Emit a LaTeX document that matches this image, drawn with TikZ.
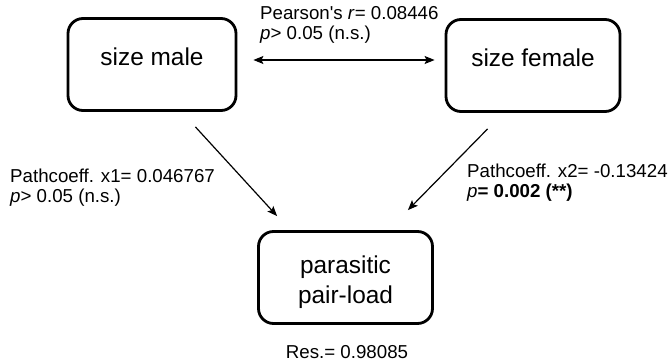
\documentclass[tikz,border=0pt]{standalone}
\usepackage{fontspec}
\setmainfont{Liberation Sans}
\usetikzlibrary{arrows.meta}

\begin{document}
\begin{tikzpicture}[x=1pt,y=-1pt]

\tikzset{box/.style={draw,rounded corners=15pt,line width=2.8pt,minimum height=92pt,
  align=center,font=\fontsize{24.4}{30}\selectfont},
  lbl/.style={inner sep=0pt,align=left,font=\fontsize{18.7}{20}\selectfont},
  arr/.style={line width=1.2pt,>={Stealth[length=10pt,width=8pt,inset=2pt]},->}}

\useasboundingbox (0,0) rectangle (671,363);

\node[box,minimum width=168pt,text height=17.8pt,text depth=16pt] (sm) at (152,64.5) {size male};
\node[box,minimum width=174pt,text height=17.8pt,text depth=16pt] (sf) at (533,65.5) {size female};
\node[box,minimum width=174pt,text height=57pt] (pl) at (345.5,277.5) {parasitic\\pair-load};

\node[lbl,anchor=west] (pr) at (260,25) {Pearson\textquotesingle s \textit{r}= 0.08446\\\textit{p}> 0.05 (n.s.)};
\node[lbl,anchor=west] (x1) at (10,188) {Pathcoeff. x1= 0.046767\\\textit{p}> 0.05 (n.s.)};
\node[lbl,anchor=west] (x2) at (467,183) {Pathcoeff. x2= -0.13424\\\textit{p}\textbf{= 0.002 (**)}};
\node[lbl,anchor=base] (res) at (347,358) {Res.= 0.98085};

\draw[arr,<->] ([shift={(16,-4.5)}]sm.east) -- ([shift={(-10,-5.5)}]sf.west);
\draw[arr] ([shift={(-42,15)}]sm.south east) -- ([shift={(20,-14)}]pl.north west);
\draw[arr] ([shift={(43,16)}]sf.south west) -- ([shift={(-26,-20)}]pl.north east);
\end{tikzpicture}
\end{document}
